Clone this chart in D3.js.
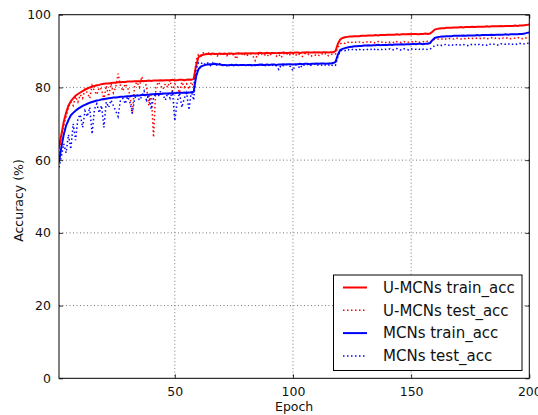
<!DOCTYPE html>
<html>
<head>
<meta charset="utf-8">
<script src="https://cdn.jsdelivr.net/npm/d3@7"></script>
<style>
  body { margin: 0; background: #fff; }
  text { font-family: "DejaVu Sans", sans-serif; fill: #111; }
</style>
</head>
<body>
<svg id="chart"></svg>
<script>
// accuracy values per epoch (1..200)
const umcnsTrain = [
  63.5, 67.0, 70.5, 73.0, 75.0, 76.2, 77.0, 77.7, 78.2, 78.6,
  79.0, 79.4, 79.7, 80.0, 80.2, 80.4, 80.6, 80.7, 80.9, 81.0,
  81.1, 81.1, 81.2, 81.3, 81.3, 81.4, 81.4, 81.5, 81.5, 81.6,
  81.6, 81.6, 81.7, 81.7, 81.7, 81.8, 81.8, 81.8, 81.9, 81.8,
  81.9, 81.9, 81.9, 82.0, 81.9, 82.0, 82.0, 82.0, 82.1, 82.0,
  82.0, 82.1, 82.1, 82.0, 82.1, 82.2, 82.1, 82.4, 86.0, 88.3,
  88.8, 89.0, 89.1, 89.2, 89.2, 89.3, 89.2, 89.2, 89.3, 89.2,
  89.3, 89.2, 89.3, 89.3, 89.2, 89.3, 89.4, 89.3, 89.3, 89.4,
  89.3, 89.4, 89.4, 89.3, 89.4, 89.5, 89.4, 89.4, 89.5, 89.4,
  89.5, 89.5, 89.4, 89.5, 89.5, 89.6, 89.5, 89.5, 89.6, 89.5,
  89.6, 89.6, 89.5, 89.6, 89.6, 89.7, 89.6, 89.6, 89.7, 89.6,
  89.7, 89.6, 89.7, 89.7, 89.6, 89.7, 89.7, 90.0, 92.0, 93.2,
  93.6, 93.8, 93.9, 94.0, 94.0, 94.1, 94.1, 94.1, 94.2, 94.2,
  94.2, 94.3, 94.3, 94.3, 94.4, 94.3, 94.4, 94.4, 94.4, 94.5,
  94.5, 94.5, 94.5, 94.6, 94.5, 94.6, 94.6, 94.6, 94.7, 94.6,
  94.7, 94.7, 94.6, 94.7, 94.7, 94.8, 94.7, 94.8, 95.3, 95.9,
  96.1, 96.2, 96.3, 96.3, 96.4, 96.4, 96.4, 96.5, 96.5, 96.5,
  96.6, 96.5, 96.6, 96.6, 96.6, 96.7, 96.6, 96.7, 96.7, 96.7,
  96.7, 96.8, 96.7, 96.8, 96.8, 96.8, 96.8, 96.9, 96.8, 96.9,
  96.9, 96.9, 96.9, 97.0, 96.9, 97.0, 97.0, 97.1, 97.2, 97.3
];

const umcnsTest = [
  62.0, 66.5, 69.5, 72.0, 74.5, 76.0, 75.0, 77.5, 76.0, 78.0,
  77.0, 79.5, 78.5, 77.0, 80.5, 79.0, 78.0, 80.0, 79.5, 76.5,
  80.5, 77.5, 81.0, 78.5, 80.0, 83.8, 80.5, 79.0, 81.0, 80.0,
  78.0, 72.8, 80.5, 81.5, 80.0, 83.0, 81.5, 80.5, 75.0, 78.5,
  66.3, 80.0, 81.5, 80.5, 79.5, 81.0, 80.0, 82.0, 79.0, 81.0,
  80.5, 78.5, 81.5, 80.0, 81.0, 79.5, 81.5, 80.0, 87.5, 89.0,
  88.5, 89.5, 89.0, 89.8, 88.8, 89.4, 89.0, 88.6, 89.3, 88.9,
  89.2, 88.7, 89.4, 88.8, 89.1, 87.8, 89.3, 88.9, 89.5, 88.6,
  89.0, 89.3, 88.7, 87.4, 89.2, 88.8, 89.4, 89.0, 88.5, 89.3,
  88.9, 89.4, 88.6, 89.1, 88.2, 89.3, 88.9, 89.5, 88.8, 89.2,
  88.7, 89.4, 89.0, 88.5, 89.3, 88.9, 89.2, 88.6, 88.7, 89.1,
  88.8, 89.3, 88.9, 89.4, 88.7, 89.0, 89.3, 89.2, 91.0, 92.0,
  92.3, 92.1, 92.5, 92.2, 92.4, 92.6, 92.3, 92.5, 92.2, 92.4,
  92.6, 92.3, 92.5, 92.4, 92.2, 92.6, 92.4, 92.5, 92.3, 92.6,
  92.4, 92.5, 92.2, 92.6, 92.5, 92.3, 92.6, 92.4, 92.5, 92.7,
  92.4, 92.6, 92.3, 92.5, 92.6, 92.4, 92.7, 92.5, 92.9, 93.3,
  93.2, 93.4, 93.3, 93.5, 93.2, 93.4, 93.5, 93.3, 93.6, 93.4,
  93.3, 93.5, 93.4, 93.6, 93.3, 93.5, 93.4, 93.6, 93.5, 93.3,
  93.6, 93.4, 93.5, 93.7, 93.4, 93.6, 93.5, 93.3, 93.6, 93.5,
  93.7, 93.4, 93.6, 93.5, 93.7, 93.6, 93.4, 93.7, 93.6, 93.8
];

const mcnsTrain = [
  59.5, 63.5, 67.0, 69.5, 71.0, 72.3, 73.0, 73.6, 74.1, 74.5,
  74.9, 75.2, 75.5, 75.8, 76.0, 76.2, 76.4, 76.5, 76.7, 76.8,
  76.9, 77.0, 77.1, 77.2, 77.2, 77.3, 77.4, 77.4, 77.5, 77.6,
  77.6, 77.7, 77.7, 77.8, 77.8, 77.9, 77.9, 78.0, 78.0, 78.1,
  78.1, 78.2, 78.2, 78.2, 78.3, 78.3, 78.3, 78.4, 78.4, 78.4,
  78.5, 78.5, 78.5, 78.6, 78.5, 78.6, 78.6, 78.8, 83.0, 85.0,
  85.7, 86.0, 86.2, 86.3, 86.4, 86.4, 86.5, 86.4, 86.3, 86.2,
  86.2, 86.1, 86.1, 86.2, 86.1, 86.2, 86.1, 86.2, 86.2, 86.1,
  86.2, 86.2, 86.1, 86.2, 86.2, 86.3, 86.2, 86.2, 86.3, 86.2,
  86.3, 86.3, 86.2, 86.3, 86.3, 86.4, 86.3, 86.4, 86.4, 86.3,
  86.4, 86.4, 86.5, 86.4, 86.5, 86.5, 86.4, 86.5, 86.5, 86.6,
  86.5, 86.6, 86.6, 86.5, 86.6, 86.6, 86.7, 87.0, 89.0, 90.3,
  90.6, 90.8, 91.0, 91.1, 91.2, 91.3, 91.3, 91.4, 91.4, 91.5,
  91.5, 91.6, 91.5, 91.6, 91.6, 91.7, 91.6, 91.7, 91.7, 91.7,
  91.8, 91.7, 91.8, 91.8, 91.8, 91.9, 91.8, 91.9, 91.9, 91.9,
  92.0, 91.9, 92.0, 92.0, 91.9, 92.0, 92.0, 92.2, 93.0, 93.6,
  93.8, 93.9, 94.0, 94.0, 94.1, 94.1, 94.1, 94.2, 94.2, 94.2,
  94.2, 94.3, 94.2, 94.3, 94.3, 94.3, 94.3, 94.4, 94.3, 94.4,
  94.4, 94.4, 94.4, 94.5, 94.4, 94.5, 94.5, 94.5, 94.5, 94.6,
  94.5, 94.6, 94.6, 94.6, 94.6, 94.7, 94.7, 94.8, 95.0, 95.1
];

const mcnsTest = [
  58.0, 61.0, 64.5, 62.0, 67.0, 63.0, 70.0, 65.5, 71.5, 72.5,
  69.0, 73.5, 72.0, 74.5, 67.2, 74.0, 75.5, 73.0, 75.0, 69.0,
  76.0, 74.5, 76.5, 75.0, 73.5, 72.0, 76.5, 77.0, 75.5, 77.5,
  76.0, 72.8, 77.0, 78.0, 76.5, 77.5, 79.0, 76.5, 78.0, 74.0,
  77.0, 78.5, 77.5, 79.0, 78.0, 76.5, 78.5, 77.0, 79.0, 70.8,
  76.0, 78.5, 74.5, 77.0, 78.5, 73.8, 79.0, 76.5, 85.0, 86.8,
  86.5, 86.9, 86.2, 86.7, 86.0, 86.8, 86.3, 86.1, 86.5, 85.9,
  86.2, 86.0, 86.4, 85.8, 86.1, 86.3, 85.9, 86.2, 86.0, 86.4,
  86.1, 85.8, 86.3, 86.0, 86.2, 85.9, 86.4, 86.1, 85.8, 86.2,
  86.0, 86.3, 85.9, 84.9, 86.2, 86.0, 86.4, 86.1, 85.7, 84.6,
  86.2, 86.0, 85.2, 86.3, 86.1, 86.4, 85.9, 86.2, 86.5, 86.0,
  86.3, 86.1, 86.4, 86.0, 86.2, 85.8, 86.3, 86.1, 88.5, 90.0,
  90.3, 90.1, 90.5, 90.2, 90.4, 90.6, 90.3, 90.5, 90.2, 90.4,
  90.6, 90.3, 90.5, 90.2, 90.7, 90.4, 90.6, 90.3, 90.5, 90.4,
  90.6, 90.3, 90.5, 90.7, 90.4, 90.2, 90.6, 90.5, 90.3, 90.6,
  90.4, 90.5, 90.7, 90.3, 90.5, 90.6, 90.4, 90.5, 91.0, 91.5,
  91.6, 91.8, 91.5, 91.7, 91.9, 91.6, 91.8, 91.5, 91.7, 91.9,
  91.6, 91.8, 91.7, 91.5, 91.9, 91.7, 91.8, 91.6, 91.9, 91.7,
  91.8, 91.6, 92.0, 91.7, 91.9, 91.8, 91.6, 92.0, 91.8, 91.9,
  92.1, 91.7, 91.9, 92.0, 91.8, 92.1, 91.9, 92.0, 92.2, 92.0
];

const seriesNames = ["U-MCNs train_acc", "U-MCNs test_acc", "MCNs train_acc", "MCNs test_acc"];
const xTicks = [50, 100, 150, 200];
const yTicks = [0, 20, 40, 60, 80, 100];

function main() {
    const W = 538, H = 415;
    const margin = { top: 14.7, right: 8.7, bottom: 36.7, left: 59 };
    const width = W - margin.left - margin.right;
    const height = H - margin.top - margin.bottom;

    const svg = d3.select('#chart')
      .attr('width', W)
      .attr('height', H);

    svg.append('rect').attr('width', W).attr('height', H).attr('fill', '#fff');

    const g = svg.append('g')
      .attr('transform', `translate(${margin.left}, ${margin.top})`);

    // scales
    const xScale = d3.scaleLinear().domain([1, 200]).range([0, width]);
    const yScale = d3.scaleLinear().domain([0, 100]).range([height, 0]);

    // dotted grid
    g.append('g').selectAll('line')
      .data(xTicks.filter(d => d < 200))
      .enter().append('line')
      .attr('x1', d => xScale(d)).attr('x2', d => xScale(d))
      .attr('y1', 0).attr('y2', height)
      .attr('stroke', '#555').attr('stroke-width', 0.8)
      .attr('stroke-dasharray', '1,2.5');

    g.append('g').selectAll('line')
      .data(yTicks.filter(d => d > 0 && d < 100))
      .enter().append('line')
      .attr('x1', 0).attr('x2', width)
      .attr('y1', d => yScale(d)).attr('y2', d => yScale(d))
      .attr('stroke', '#555').attr('stroke-width', 0.8)
      .attr('stroke-dasharray', '1,2.5');

    // series
    const series = [
      { name: seriesNames[0], values: umcnsTrain, color: '#ff0000', dash: null },
      { name: seriesNames[1], values: umcnsTest, color: '#ff0000', dash: '1.5,2.5' },
      { name: seriesNames[2], values: mcnsTrain, color: '#0000ff', dash: null },
      { name: seriesNames[3], values: mcnsTest, color: '#0000ff', dash: '1.5,2.5' }
    ];

    const line = d3.line()
      .x((d, i) => xScale(i + 1))
      .y(d => yScale(d));

    const plot = g.append('g');
    plot.append('clipPath').attr('id', 'clip')
      .append('rect').attr('width', width).attr('height', height);

    plot.selectAll('path')
      .data(series)
      .enter()
      .append('path')
      .attr('clip-path', 'url(#clip)')
      .attr('d', d => line(d.values))
      .attr('fill', 'none')
      .attr('stroke', d => d.color)
      .attr('stroke-width', d => d.dash ? 1.5 : 2)
      .attr('stroke-dasharray', d => d.dash);

    // axes, ticks point inward like matplotlib classic
    const xAxis = d3.axisBottom(xScale).tickValues(xTicks).tickSize(-4).tickPadding(9);
    const yAxis = d3.axisLeft(yScale).tickValues(yTicks).tickSize(-4).tickPadding(8);

    g.append('g')
      .attr('class', 'x axis')
      .attr('transform', `translate(0, ${height})`)
      .call(xAxis);

    g.append('g')
      .attr('class', 'y axis')
      .call(yAxis);

    // top and right ticks
    g.append('g').call(d3.axisTop(xScale).tickValues(xTicks).tickSize(-4).tickFormat(''));
    g.append('g').attr('transform', `translate(${width}, 0)`)
      .call(d3.axisRight(yScale).tickValues(yTicks).tickSize(-4).tickFormat(''));

    g.selectAll('.domain').remove();
    g.selectAll('.tick line').attr('stroke', '#000').attr('stroke-width', 0.8);
    g.selectAll('.tick text')
      .style('font-family', '"DejaVu Sans", sans-serif')
      .style('font-size', '12.5px')
      .attr('fill', '#111');

    // frame
    g.append('rect')
      .attr('width', width).attr('height', height)
      .attr('fill', 'none').attr('stroke', '#000').attr('stroke-width', 1);

    // axis labels
    svg.append('text')
      .attr('x', margin.left + width / 2)
      .attr('y', 411)
      .attr('text-anchor', 'middle')
      .style('font-size', '12.5px')
      .text('Epoch');

    svg.append('text')
      .attr('transform', `translate(23, ${margin.top + height / 2 + 4}) rotate(-90)`)
      .attr('text-anchor', 'middle')
      .style('font-size', '12.5px')
      .text('Accuracy (%)');

    // legend
    const legend = svg.append('g');
    legend.append('rect')
      .attr('x', 333.5).attr('y', 275)
      .attr('width', 188.5).attr('height', 95.5)
      .attr('fill', '#fff').attr('stroke', '#000').attr('stroke-width', 1);

    const rows = legend.selectAll('.row')
      .data(series)
      .enter().append('g')
      .attr('transform', (d, i) => `translate(0, ${287.5 + i * 22.8})`);

    rows.append('line')
      .attr('x1', 343).attr('x2', 367)
      .attr('stroke', d => d.color)
      .attr('stroke-width', d => d.dash ? 1.5 : 2)
      .attr('stroke-dasharray', d => d.dash);

    rows.append('text')
      .attr('x', 383)
      .attr('dy', '0.35em')
      .style('font-size', '15px')
      .text(d => d.name);
}

main();
</script>
</body>
</html>
